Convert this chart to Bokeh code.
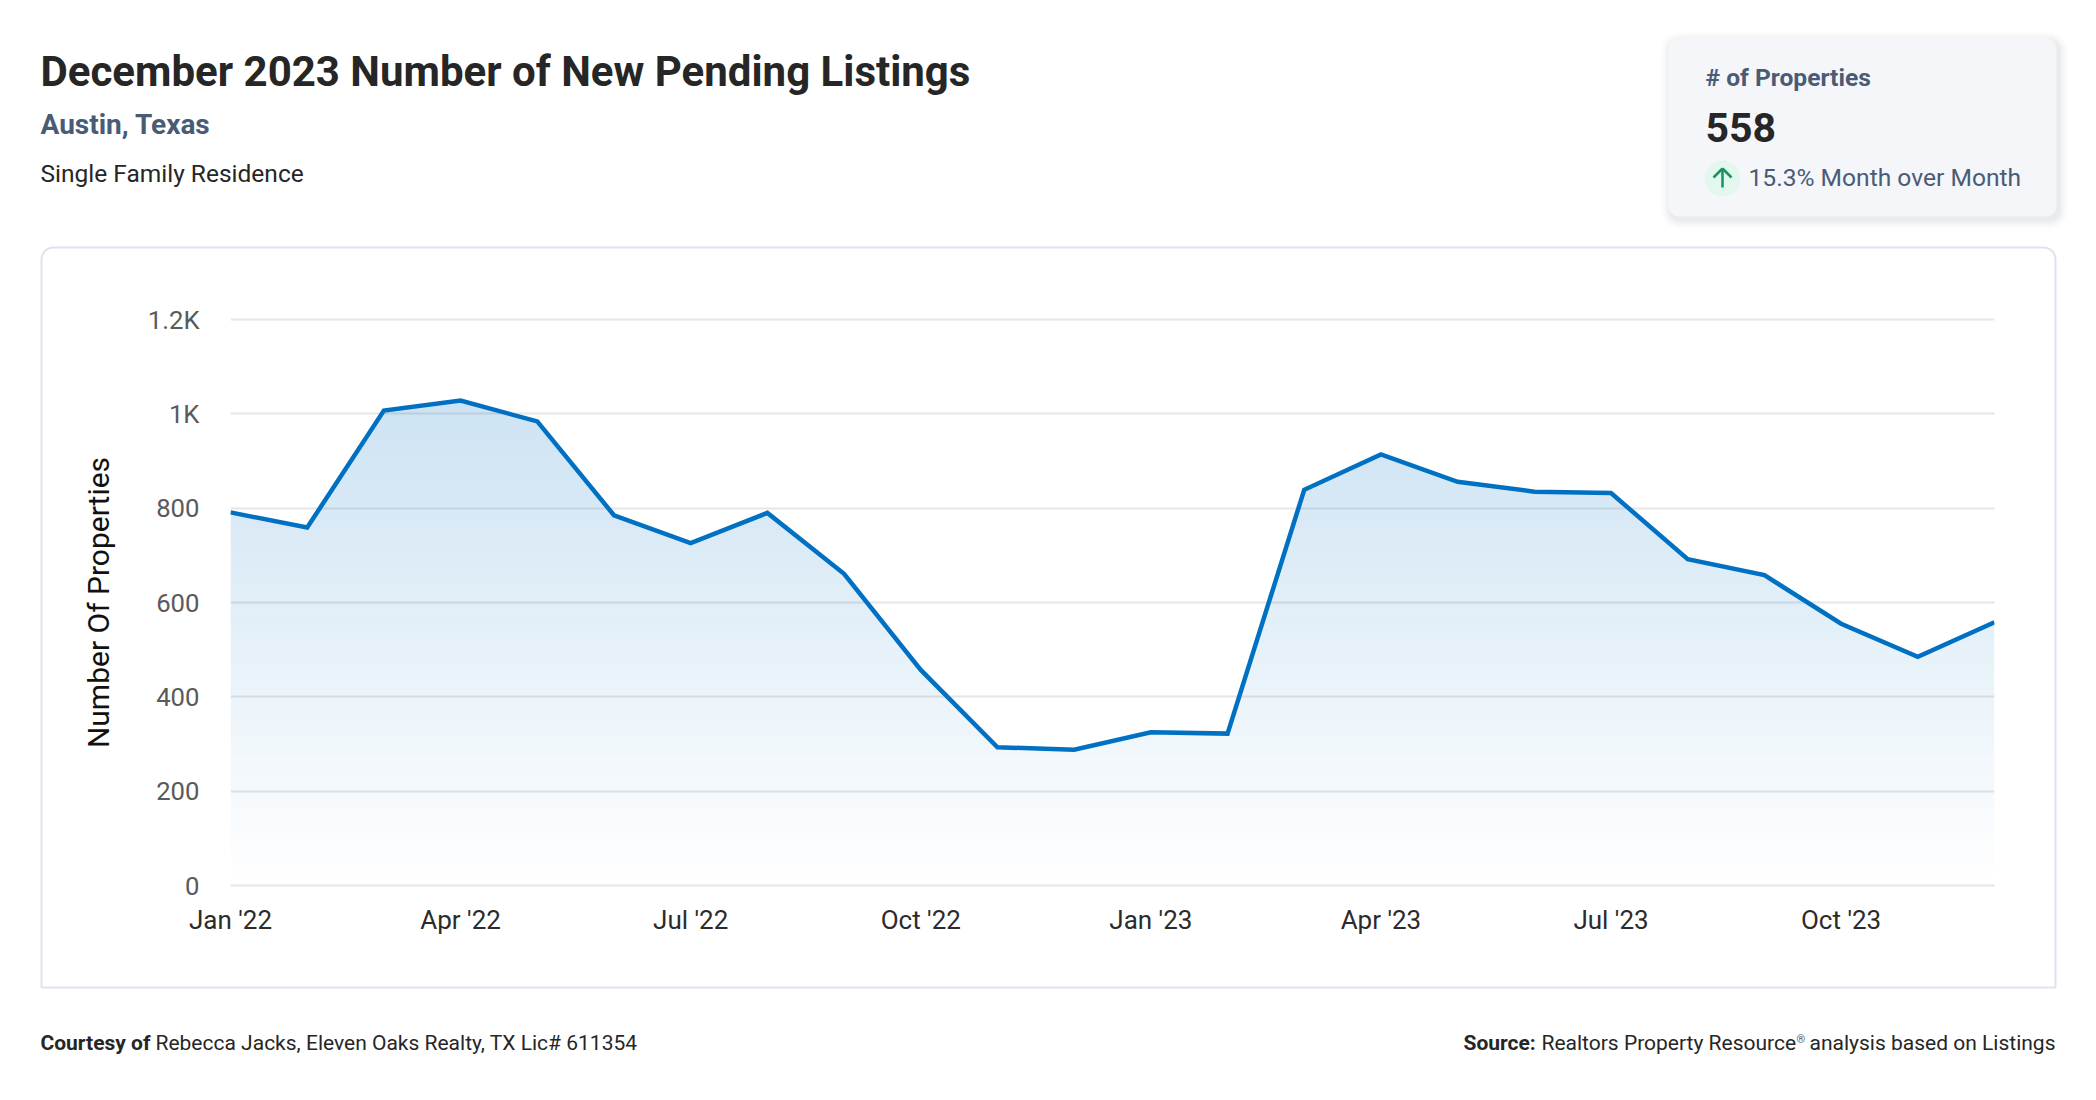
import numpy as np
from bokeh.embed import file_html
from bokeh.layouts import column
from bokeh.models import Arrow, BoxAnnotation, ColumnDataSource, FixedTicker, Label, Range1d
from bokeh.plotting import figure
from bokeh.resources import INLINE

months = ["Jan '22", "Feb '22", "Mar '22", "Apr '22", "May '22", "Jun '22", "Jul '22", "Aug '22", "Sep '22", "Oct '22", "Nov '22", "Dec '22",
          "Jan '23", "Feb '23", "Mar '23", "Apr '23", "May '23", "Jun '23", "Jul '23", "Aug '23", "Sep '23", "Oct '23", "Nov '23", "Dec '23"]
pending = [791, 759, 1007, 1028, 984, 785, 726, 790, 661, 457, 293, 288,
           325, 322, 839, 914, 856, 835, 832, 692, 658, 555, 485, 558]
y_ticks = [0, 200, 400, 600, 800, 1000, 1200]
y_tick_labels = ["0", "200", "400", "600", "800", "1K", "1.2K"]
x_tick_index = [0, 3, 6, 9, 12, 15, 18, 21]

TITLE = "December 2023 Number of New Pending Listings"
FONT = "Roboto"
BLUE = "#0071c2"
W, H = 2080, 1084


def sx(x):
    return x


def sy(y):
    return H - y


# ---- background figure: frame fills the canvas, holds panels and page texts
bg = figure(width=W, height=H, output_backend="svg", toolbar_location=None,
            x_range=Range1d(0, W), y_range=Range1d(0, H),
            min_border=0, x_axis_location=None, y_axis_location=None)
bg.outline_line_color = None
bg.grid.visible = False
bg.border_fill_color = "white"
bg.background_fill_color = "white"
bg.frame_align = False


def box(l, r, t, b, fill, alpha=1.0, line=None, lw=0, radius=0):
    bg.add_layout(BoxAnnotation(left=sx(l), right=sx(r), top=sy(t), bottom=sy(b),
                                left_units="screen", right_units="screen", top_units="screen", bottom_units="screen",
                                fill_color=fill, fill_alpha=alpha, line_color=line, line_width=lw, line_alpha=1.0,
                                border_radius=radius, editable=False))


def text(x, y, s, size, color, style="normal", align="left"):
    bg.add_layout(Label(x=sx(x), y=sy(y - 0.335 * size), x_units="screen", y_units="screen", text=s, text_font=FONT,
                        text_font_size=f"{size}px", text_color=color, text_font_style=style,
                        text_align=align, text_baseline="alphabetic"))


def stroke(x0, y0, x1, y1):
    bg.add_layout(Arrow(end=None, x_start=sx(x0), y_start=sy(y0), x_end=sx(x1), y_end=sy(y1),
                        start_units="screen", end_units="screen", line_color="#16935f", line_width=2.5))


box(41, 2055, 247, 987, "white", line="#dde3ed", lw=2, radius=(12, 12, 0, 0))
for grow, al in [(10, .012), (8, .016), (6, .02), (4, .026), (2, .03)]:
    box(1668 - grow + 2, 2056 + grow + 2, 38 - grow + 3, 216 + grow + 3, "#334155", alpha=al, radius=10 + grow)
box(1668, 2056, 38, 216, "#f5f6fa", radius=10)
box(1704, 1740, 160, 196, "#e2f8ee", radius=18)
stroke(1722, 187, 1722, 168)
stroke(1713, 177, 1722, 168)
stroke(1731, 177, 1722, 168)

text(40, 85, TITLE, 42, "#262626", "bold")
text(40, 133, "Austin, Texas", 28, "#4a5b75", "bold")
text(40, 181, "Single Family Residence", 24.5, "#262626")
text(1705, 85, "# of Properties", 24.6, "#4a5b75", "bold")
text(1705, 141, "558", 41, "#262626", "bold")
text(1748, 185, "15.3% Month over Month", 24.6, "#4a5b75")
text(40, 1050, "Courtesy of", 21, "#262626", "bold")
text(155, 1050, "Rebecca Jacks, Eleven Oaks Realty, TX Lic# 611354", 21, "#262626")
text(1463, 1050, "Source:", 21, "#262626", "bold")
text(1541, 1050, "Realtors Property Resource", 21, "#262626")
text(1796, 1043, "®", 11, "#555555")
text(2055, 1050, "analysis based on Listings", 21, "#262626", align="right")

# ---- chart figure, transparent, laid over the background
pad = 2 * 1200 / 566
p = figure(width=W, height=H, output_backend="svg", toolbar_location=None,
           x_range=Range1d(0, 23), y_range=Range1d(-pad, 1200 + pad),
           min_border_left=230, min_border_right=86, min_border_top=317, min_border_bottom=197)
p.outline_line_color = None
p.background_fill_color = None
p.border_fill_color = None
p.margin = (-H, 0, 0, 0)
p.frame_align = False

p.xaxis.ticker = FixedTicker(ticks=x_tick_index)
p.xaxis.major_label_overrides = {i: months[i] for i in x_tick_index}
p.xaxis.major_label_text_font = FONT
p.xaxis.major_label_text_font_size = "26px"
p.xaxis.major_label_text_color = "#2b2b2b"
p.xaxis.major_label_standoff = 11
p.xaxis.axis_line_color = None
p.xaxis.major_tick_line_color = None
p.xaxis.minor_tick_line_color = None

p.yaxis.ticker = FixedTicker(ticks=y_ticks)
p.yaxis.major_label_overrides = dict(zip(y_ticks, y_tick_labels))
p.yaxis.major_label_text_font = FONT
p.yaxis.major_label_text_font_size = "25.7px"
p.yaxis.major_label_text_color = "#5a5a5a"
p.yaxis.major_label_standoff = 25
p.yaxis.axis_line_color = None
p.yaxis.major_tick_line_color = None
p.yaxis.minor_tick_line_color = None
p.yaxis.axis_label = "Number Of Properties"
p.yaxis.axis_label_text_font = FONT
p.yaxis.axis_label_text_font_size = "30px"
p.yaxis.axis_label_text_font_style = "normal"
p.yaxis.axis_label_text_color = "#111111"
p.yaxis.axis_label_standoff = 29

p.xgrid.visible = False
p.ygrid.ticker = FixedTicker(ticks=y_ticks)
p.ygrid.grid_line_color = "#e6e6e6"
p.ygrid.grid_line_width = 2

xi = np.arange(len(pending), dtype=float)
vals = np.array(pending, dtype=float)
top = vals.max()
step = 3 * 1200 / 566
levels = np.arange(0, top + step, step)
cross = [xi]
for i in range(len(vals) - 1):
    a, b = vals[i], vals[i + 1]
    inside = levels[(levels > min(a, b)) & (levels < max(a, b))]
    cross.append(i + (inside - a) / (b - a))
xs = np.unique(np.concatenate(cross))
ys = np.interp(xs, xi, vals)
for lo, hi in zip(levels[:-1], levels[1:]):
    al = 0.2 * ((lo + hi) / 2) / top
    p.varea(x=xs, y1=np.minimum(ys, lo), y2=np.minimum(ys, hi), fill_color=BLUE, fill_alpha=min(al, 0.2))

src = ColumnDataSource(dict(x=xi, y=vals))
p.line("x", "y", source=src, line_color=BLUE, line_width=4.5, line_join="miter")

page = column(bg, p, spacing=0)
open("out.html", "w").write(file_html(page, INLINE))
